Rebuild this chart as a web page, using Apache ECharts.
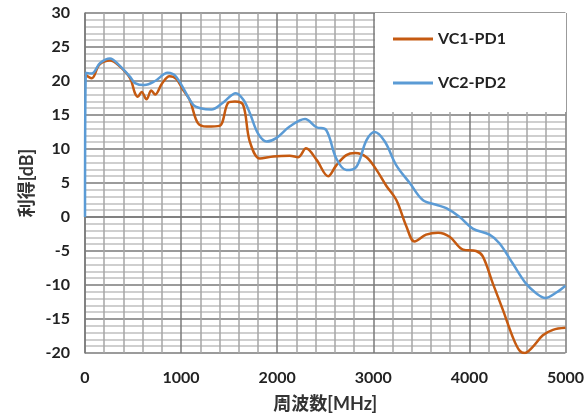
<!DOCTYPE html>
<html>
<head>
<meta charset="utf-8">
<script src="https://cdn.jsdelivr.net/npm/echarts@6/dist/echarts.min.js"></script>
<style>
html,body{margin:0;padding:0;background:#fff;}
#chart{width:587px;height:419px;}
</style>
</head>
<body>
<div id="chart"></div>
<script>
// ---- data ----
const seriesNames = ['VC1-PD1', 'VC2-PD2'];
const xTicks = [0, 1000, 2000, 3000, 4000, 5000];
const yTicks = [-20, -15, -10, -5, 0, 5, 10, 15, 20, 25, 30];

const vc1Freq = [0, 70, 150, 260, 350, 470, 520, 550, 590, 640, 690, 730, 800, 880, 950, 1020, 1090, 1175, 1265, 1400, 1490, 1560, 1645, 1715, 1820, 1960, 2130, 2220, 2300, 2410, 2530, 2615, 2720, 2810, 2930, 3030, 3135, 3240, 3345, 3430, 3550, 3675, 3795, 3935, 4070, 4140, 4245, 4350, 4450, 4520, 4575, 4660, 4765, 4870, 5000];
const vc1Gain = [21.0, 20.4, 22.4, 23.0, 22.3, 20.4, 18.2, 17.7, 18.4, 17.3, 18.6, 18.0, 19.6, 20.7, 20.3, 18.7, 17.2, 13.8, 13.3, 13.4, 16.8, 17.0, 16.5, 11.1, 8.6, 8.9, 9.0, 8.8, 10.1, 8.4, 6.0, 7.6, 9.1, 9.4, 8.8, 7.0, 4.6, 2.5, -1.4, -3.6, -2.6, -2.3, -2.9, -4.8, -5.0, -5.8, -9.8, -13.7, -17.6, -19.6, -20.0, -19.1, -17.4, -16.6, -16.3];

const vc2Freq = [0, 10, 70, 155, 260, 350, 470, 520, 620, 730, 860, 950, 1125, 1200, 1315, 1435, 1570, 1650, 1715, 1800, 1890, 1990, 2130, 2290, 2410, 2510, 2615, 2720, 2825, 2930, 3015, 3120, 3240, 3380, 3515, 3655, 3760, 3900, 4035, 4210, 4315, 4450, 4590, 4695, 4790, 4905, 5000];
const vc2Gain = [0, 21.2, 21.1, 22.6, 23.3, 22.4, 20.6, 19.7, 19.4, 20.0, 21.2, 20.6, 16.5, 16.0, 15.8, 16.8, 18.2, 17.2, 15.3, 12.3, 11.1, 11.6, 13.3, 14.4, 13.2, 12.8, 8.6, 6.9, 7.4, 11.3, 12.5, 11.1, 7.6, 5.0, 2.5, 1.8, 1.3, 0.0, -1.7, -2.6, -3.9, -6.8, -9.8, -11.2, -11.9, -11.1, -10.1];

const xName = '周波数[MHz]';
const yName = '利得[dB]';

// ---- chart ----
const pair = (xs, ys) => xs.map((x, i) => [x, ys[i]]);
const font = 'Lato, "Noto Sans CJK JP", sans-serif';
const chart = echarts.init(document.getElementById('chart'), null, {renderer: 'canvas'});
chart.setOption({
  animation: false,
  backgroundColor: '#fff',
  grid: {left: 85, right: 21, top: 13, bottom: 66, containLabel: false},
  graphic: [{
    type: 'rect', left: 375, top: 13, z: 5,
    shape: {width: 191, height: 99},
    style: {fill: '#fff'}
  }],
  legend: {
    orient: 'vertical', left: 393, top: 31, z: 10, padding: 0,
    icon: 'rect', itemWidth: 40, itemHeight: 3, itemGap: 28,
    textStyle: {fontFamily: font, fontWeight: 'bold', fontSize: 16, color: '#222'},
    data: seriesNames
  },
  xAxis: {
    type: 'value', min: xTicks[0], max: xTicks[xTicks.length - 1], interval: 1000,
    name: xName, nameLocation: 'middle', nameGap: 42, nameMoveOverlap: false,
    nameTextStyle: {fontFamily: font, fontWeight: 'bold', fontSize: 18, color: '#333'},
    axisLine: {show: true, lineStyle: {color: '#7a7a7a', width: 1.5}},
    axisTick: {show: false},
    axisLabel: {margin: 17, fontFamily: font, fontWeight: 'bold', fontSize: 16, color: '#222',
                formatter: v => String(v)},
    splitLine: {show: true, lineStyle: {color: '#7a7a7a', width: 1.5}},
    minorTick: {show: false, splitNumber: 5},
    minorSplitLine: {show: true, lineStyle: {color: '#a6a6a6', width: 1.5}}
  },
  yAxis: {
    type: 'value', min: yTicks[0], max: yTicks[yTicks.length - 1], interval: 5,
    name: yName, nameLocation: 'middle', nameGap: 49, nameRotate: 90, nameMoveOverlap: false,
    nameTextStyle: {fontFamily: font, fontWeight: 'bold', fontSize: 18, color: '#333'},
    axisLine: {show: true, lineStyle: {color: '#7a7a7a', width: 1.5}},
    axisTick: {show: false},
    axisLabel: {margin: 15, fontFamily: font, fontWeight: 'bold', fontSize: 16, color: '#222',
                formatter: v => String(v)},
    splitLine: {show: true, lineStyle: {color: '#7a7a7a', width: 1.5}},
    minorTick: {show: false, splitNumber: 5},
    minorSplitLine: {show: true, lineStyle: {color: '#c0c0c0', width: 1.5}}
  },
  series: [
    {name: seriesNames[0], type: 'line', data: pair(vc1Freq, vc1Gain), smooth: 0.35,
     showSymbol: false, z: 3, lineStyle: {color: '#C55A11', width: 2.5}, itemStyle: {color: '#C55A11'}},
    {name: seriesNames[1], type: 'line', data: pair(vc2Freq, vc2Gain), smooth: 0.35,
     showSymbol: false, z: 3, lineStyle: {color: '#5B9BD5', width: 2.5}, itemStyle: {color: '#5B9BD5'}}
  ]
});
</script>
</body>
</html>
